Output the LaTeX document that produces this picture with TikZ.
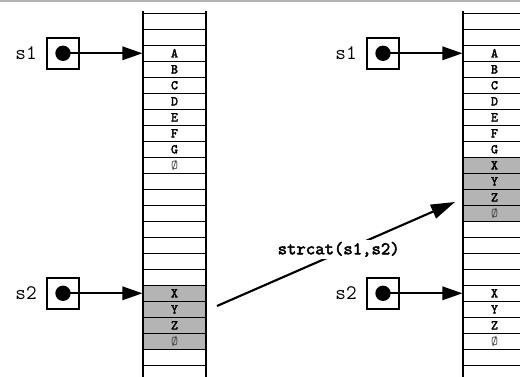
\documentclass[tikz,border=0pt]{standalone}
\usepackage{fontspec}
\newfontfamily\boldmono{lmmono10-regular}[Extension=.otf, FakeBold=2.5]
\usepackage{tikz}
\usetikzlibrary{arrows.meta,positioning,backgrounds}
\definecolor{memgray}{HTML}{B4B4B4}
\definecolor{rulegray}{HTML}{B3B3B3}
\newcommand{\nul}{{\ttfamily\color{black!75}Ø}}

\tikzset{
  cell/.style={draw, line width=0.8pt, minimum width=47.25pt, minimum height=12pt, inner sep=0pt,
    font=\boldmono\fontsize{10}{10}\selectfont},
  ptrbox/.style={draw, line width=1.5pt, minimum size=23.5pt, inner sep=0pt},
  dot/.style={circle, fill=black, minimum size=11.5pt, inner sep=0pt},
  varname/.style={inner sep=0pt, font=\ttfamily\fontsize{15.5}{15.5}\selectfont},
  ptr/.style={line width=1.5pt, -{Triangle[length=15pt,width=10pt]}},
  callarrow/.style={line width=1.6pt, -{Triangle[length=18pt,width=11pt]}}
}

\begin{document}
\begin{tikzpicture}[x=0.75pt, y=-0.75pt]
  \useasboundingbox (0,0) rectangle (520,377);
  \clip (0,0) rectangle (520,377);
  \fill[rulegray] (0,0) rectangle (520,2.5);

  % memory before the call
  \foreach \txt [count=\k from 0] in {{},{},A,B,C,D,E,F,G,\nul,{},{},{},{},{},{},{},X,Y,Z,\nul,{}}
    \node[cell] (l\k) at (174.5,{21.3+16*\k}) {\txt};
  \draw[line width=0.8pt] (143,11) -- (143,377) (206,11) -- (206,377);

  % memory after the call
  \foreach \txt [count=\k from 0] in {{},{},A,B,C,D,E,F,G,X,Y,Z,\nul,{},{},{},{},X,Y,Z,\nul,{}}
    \node[cell] (r\k) at (494.5,{21.3+16*\k}) {\txt};
  \draw[line width=0.8pt] (463,11) -- (463,377) (526,11) -- (526,377);

  \begin{scope}[on background layer]
    \fill[memgray] (l17.north west) rectangle (l20.south east);
    \fill[memgray] (r9.north west) rectangle (r12.south east);
  \end{scope}

  % pointers
  \node[ptrbox] (lp1) at (63,53.3) {};
  \node[dot] (ld1) at (lp1) {};
  \node[varname, left=7pt of lp1] (ln1) {s1};
  \draw[ptr] (ld1.center) -- (l2.west);

  \node[ptrbox] (lp2) at (63,293.3) {};
  \node[dot] (ld2) at (lp2) {};
  \node[varname, left=7pt of lp2] (ln2) {s2};
  \draw[ptr] (ld2.center) -- (l17.west);

  \node[ptrbox] (rp1) at (383,53.3) {};
  \node[dot] (rd1) at (rp1) {};
  \node[varname, left=7pt of rp1] (rn1) {s1};
  \draw[ptr] (rd1.center) -- (r2.west);

  \node[ptrbox] (rp2) at (383,293.3) {};
  \node[dot] (rd2) at (rp2) {};
  \node[varname, left=7pt of rp2] (rn2) {s2};
  \draw[ptr] (rd2.center) -- (r17.west);

  % the call
  \coordinate (cs) at (217,306);
  \coordinate (ce) at (455,202);
  \draw[callarrow] (cs) -- (ce)
    node[midway, xshift=2pt, yshift=3.5pt, fill=white, inner sep=1.5pt,
      font=\boldmono\fontsize{13.4}{13.4}\selectfont] (call) {strcat(s1,s2)};
\end{tikzpicture}
\end{document}
